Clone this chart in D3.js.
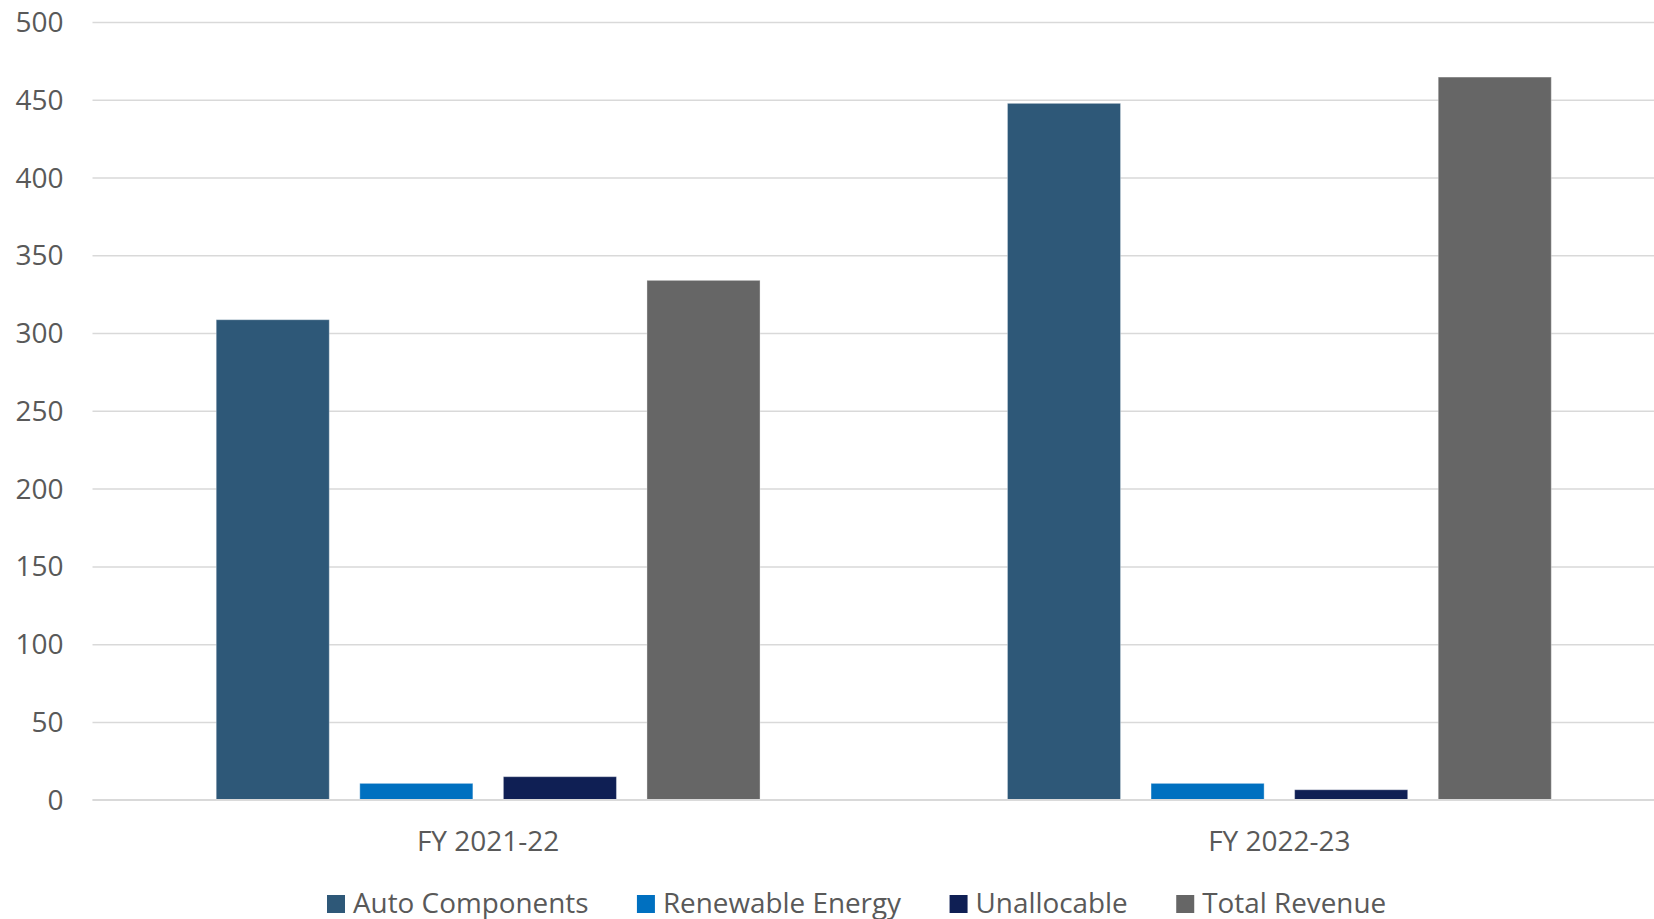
<!DOCTYPE html>
<html>
<head>
<meta charset="utf-8">
<script src="https://cdn.jsdelivr.net/npm/d3@7/dist/d3.min.js"></script>
<style>
  html, body { margin: 0; padding: 0; background: #ffffff; }
  svg { display: block; }
  text { font-family: "Open Sans", "Noto Sans", sans-serif; fill: #595959; }
</style>
</head>
<body>
<svg id="chart" width="1654" height="919"></svg>
<script>
// Segment revenue by financial year
const categories = ["FY 2021-22", "FY 2022-23"];
const seriesNames = ["Auto Components", "Renewable Energy", "Unallocable", "Total Revenue"];
const autoComponents = [308.6, 447.7];
const renewableEnergy = [10.5, 10.5];
const unallocable = [14.8, 6.4];
const totalRevenue = [333.9, 464.6];
const yTicks = [0, 50, 100, 150, 200, 250, 300, 350, 400, 450, 500];

const seriesValues = [autoComponents, renewableEnergy, unallocable, totalRevenue];
const colors = ["#2E5878", "#0070C0", "#0F1F54", "#666666"];

const W = 1654, H = 919;
const plot = { left: 92.5, right: 1675, top: 22, bottom: 799.7 };

const svg = d3.select("#chart");
svg.append("rect").attr("width", W).attr("height", H).attr("fill", "#ffffff");

const y = d3.scaleLinear().domain([0, 500]).range([plot.bottom, plot.top]);

const x0 = d3.scaleBand()
  .domain(categories)
  .range([plot.left, plot.right])
  .paddingInner(0.3127)
  .paddingOuter(0.3127 / 2);

const x1 = d3.scaleBand()
  .domain(seriesNames)
  .range([0, x0.bandwidth()])
  .paddingInner(0.2125)
  .paddingOuter(0);

// Value axis with horizontal gridlines
const yAxis = svg.append("g")
  .attr("transform", `translate(${plot.left},0)`)
  .call(d3.axisLeft(y)
    .tickValues(yTicks)
    .tickSize(-(W - plot.left))
    .tickPadding(29));
yAxis.select(".domain").remove();
yAxis.selectAll(".tick line")
  .attr("stroke", "#D9D9D9")
  .attr("stroke-width", 1.5);
yAxis.selectAll(".tick text")
  .attr("font-size", 28)
  .attr("dy", "0.34em")
  .style("font-family", "'Open Sans', 'Noto Sans', sans-serif")
  .attr("fill", "#595959");

// Bars
const rows = categories.map((c, i) => ({
  category: c,
  values: seriesNames.map((s, j) => ({ series: s, value: seriesValues[j][i], color: colors[j] }))
}));

const groups = svg.append("g")
  .selectAll("g")
  .data(rows)
  .join("g")
  .attr("transform", d => `translate(${x0(d.category)},0)`);

groups.selectAll("rect")
  .data(d => d.values)
  .join("rect")
  .attr("x", d => x1(d.series))
  .attr("y", d => y(d.value))
  .attr("width", x1.bandwidth())
  .attr("height", d => y(0) - y(d.value))
  .attr("fill", d => d.color)
  .attr("stroke", "#ffffff")
  .attr("stroke-opacity", 0.35)
  .attr("stroke-width", 1);

// Baseline
svg.append("line")
  .attr("x1", plot.left).attr("x2", W)
  .attr("y1", y(0)).attr("y2", y(0))
  .attr("stroke", "#D9D9D9").attr("stroke-width", 1.6);

// Category axis
const xAxis = svg.append("g")
  .attr("transform", `translate(0,${plot.bottom})`)
  .call(d3.axisBottom(x0).tickSize(0).tickPadding(31));
xAxis.select(".domain").remove();
xAxis.selectAll(".tick text")
  .attr("font-size", 28)
  .style("font-family", "'Open Sans', 'Noto Sans', sans-serif")
  .attr("fill", "#595959");

// Legend
const legend = svg.append("g").attr("transform", "translate(0,912.5)");
let cursor = 327;
seriesNames.forEach((name, i) => {
  const item = legend.append("g").attr("transform", `translate(${cursor},0)`);
  item.append("rect")
    .attr("x", 0).attr("y", -17.5)
    .attr("width", 18).attr("height", 18)
    .attr("fill", colors[i]);
  const t = item.append("text")
    .attr("x", 26).attr("y", 0)
    .attr("font-size", 27.85)
    .text(name);
  cursor += 26 + t.node().getComputedTextLength() + 48.5;
});
</script>
</body>
</html>
